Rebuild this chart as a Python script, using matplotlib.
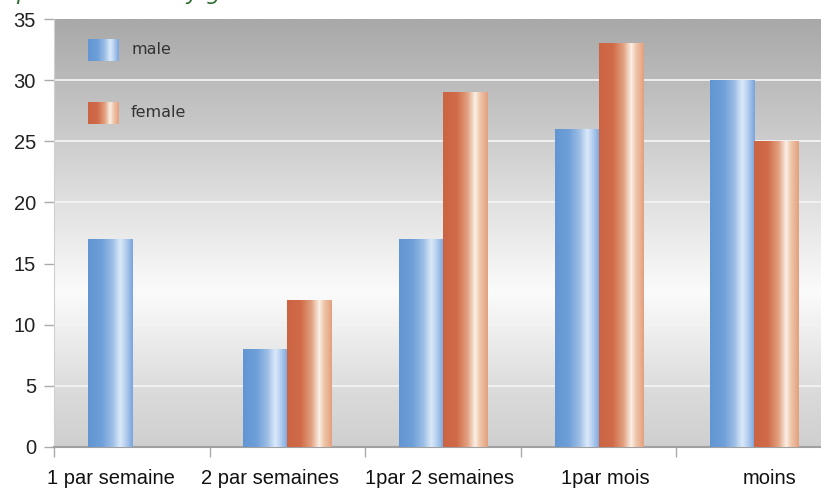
import numpy as np
import matplotlib
matplotlib.use("Agg")
import matplotlib.pyplot as plt
from matplotlib.colors import LinearSegmentedColormap
from matplotlib.font_manager import FontProperties

categories = ["1 par semaine", "2 par semaines", "1par 2 semaines", "1par mois", "moins"]
male = [17, 8, 17, 26, 30]
female = [0, 12, 29, 33, 25]
series_names = ["male", "female"]
yticks = [0, 5, 10, 15, 20, 25, 30, 35]

# label anchor positions (layout only, in axis units)
label_x = [-0.134, 0.888, 1.981, 3.041, 4.10]

W, H = 821, 488
fig = plt.figure(figsize=(W / 100, H / 100), dpi=100)
fig.patch.set_facecolor("white")

arial = FontProperties(family="Liberation Sans", size=14.5)

left_px, right_px, top_px, bot_px = 54, 832, 19, 447
ax = fig.add_axes([left_px / W, 1 - bot_px / H, (right_px - left_px) / W, (bot_px - top_px) / H])

# background vertical gradient
bg = LinearSegmentedColormap.from_list("bg", [
    (0.0, "#cfcfcf"), (0.12, "#dadada"), (0.36, "#fbfbfb"),
    (0.55, "#e3e3e3"), (0.77, "#c6c6c6"), (1.0, "#a8a8a8")])
grad = np.linspace(0, 1, 256).reshape(-1, 1)
ax.imshow(grad, cmap=bg, aspect="auto", extent=[0, 1, 0, 1], origin="lower",
          transform=ax.transAxes, zorder=0, interpolation="bilinear")

blue_cm = LinearSegmentedColormap.from_list("blue", [
    (0.0, "#6196d3"), (0.3, "#6e9fd8"), (0.55, "#9dbfe6"), (0.72, "#dbe9f9"),
    (0.82, "#bcd4f1"), (1.0, "#7aa5dc")])
orange_cm = LinearSegmentedColormap.from_list("orange", [
    (0.0, "#cc6444"), (0.3, "#d06a48"), (0.55, "#e2a281"), (0.72, "#faf0e6"),
    (0.82, "#f0c8ad"), (1.0, "#e4a07e")])

x = np.arange(len(categories))
bw = 0.283
hgrad = np.linspace(0, 1, 128).reshape(1, -1)

for vals, off, cm in [(male, -bw / 2, blue_cm), (female, bw / 2, orange_cm)]:
    bars = ax.bar(x + off, vals, width=bw, color="none", edgecolor="none", zorder=2)
    for p in bars:
        h = p.get_height()
        if h <= 0:
            continue
        x0 = p.get_x()
        ax.imshow(hgrad, cmap=cm, aspect="auto", extent=[x0, x0 + p.get_width(), 0, h],
                  zorder=3, interpolation="bilinear")

for y in yticks[1:-1]:
    ax.axhline(y, color="#f3f3f3", lw=1.3, zorder=1)

# legend (manual swatches)
for i, (name, cm) in enumerate(zip(series_names, [blue_cm, orange_cm])):
    y0 = [0.902, 0.755][i]
    ax.imshow(hgrad, cmap=cm, aspect="auto", extent=[0.0437, 0.0823, y0, y0 + 0.051],
              transform=ax.transAxes, zorder=4, interpolation="bilinear")
    ax.text(0.099, y0 + 0.026, name, transform=ax.transAxes, va="center", ha="left",
            fontsize=11.5, color="#333333", family="DejaVu Sans", zorder=5)

ax.set_xlim(-0.5, len(categories) - 0.5)
ax.set_ylim(0, 35)

ax.set_yticks(yticks)
ax.set_yticklabels([str(v) for v in yticks], fontproperties=arial, color="#222222")
ax.tick_params(axis="y", length=7, color="#aaaaaa", pad=6, width=1)

ax.set_xticks([])
ax.set_xticks(np.arange(-0.5, len(categories), 1), minor=True)
ax.tick_params(axis="x", which="minor", length=7, color="#aaaaaa", width=1)
for lx, lab in zip(label_x, categories):
    ax.text(lx, -0.0864, lab, transform=ax.get_xaxis_transform(), ha="center", va="baseline",
            fontproperties=arial, color="#111111")

for s in ["top", "right"]:
    ax.spines[s].set_visible(False)
ax.spines["left"].set_color("#d0d0d0")
ax.spines["bottom"].set_color("#a0a0a0")
ax.spines["bottom"].set_linewidth(1.5)

# partially visible title above the chart (only descenders show)
fig.text(-0.030, 1.0, "Shop attendance by gender", color="#2e6b30", fontsize=16,
         style="italic", va="baseline", ha="left")

fig.savefig("out.png", dpi=100)
